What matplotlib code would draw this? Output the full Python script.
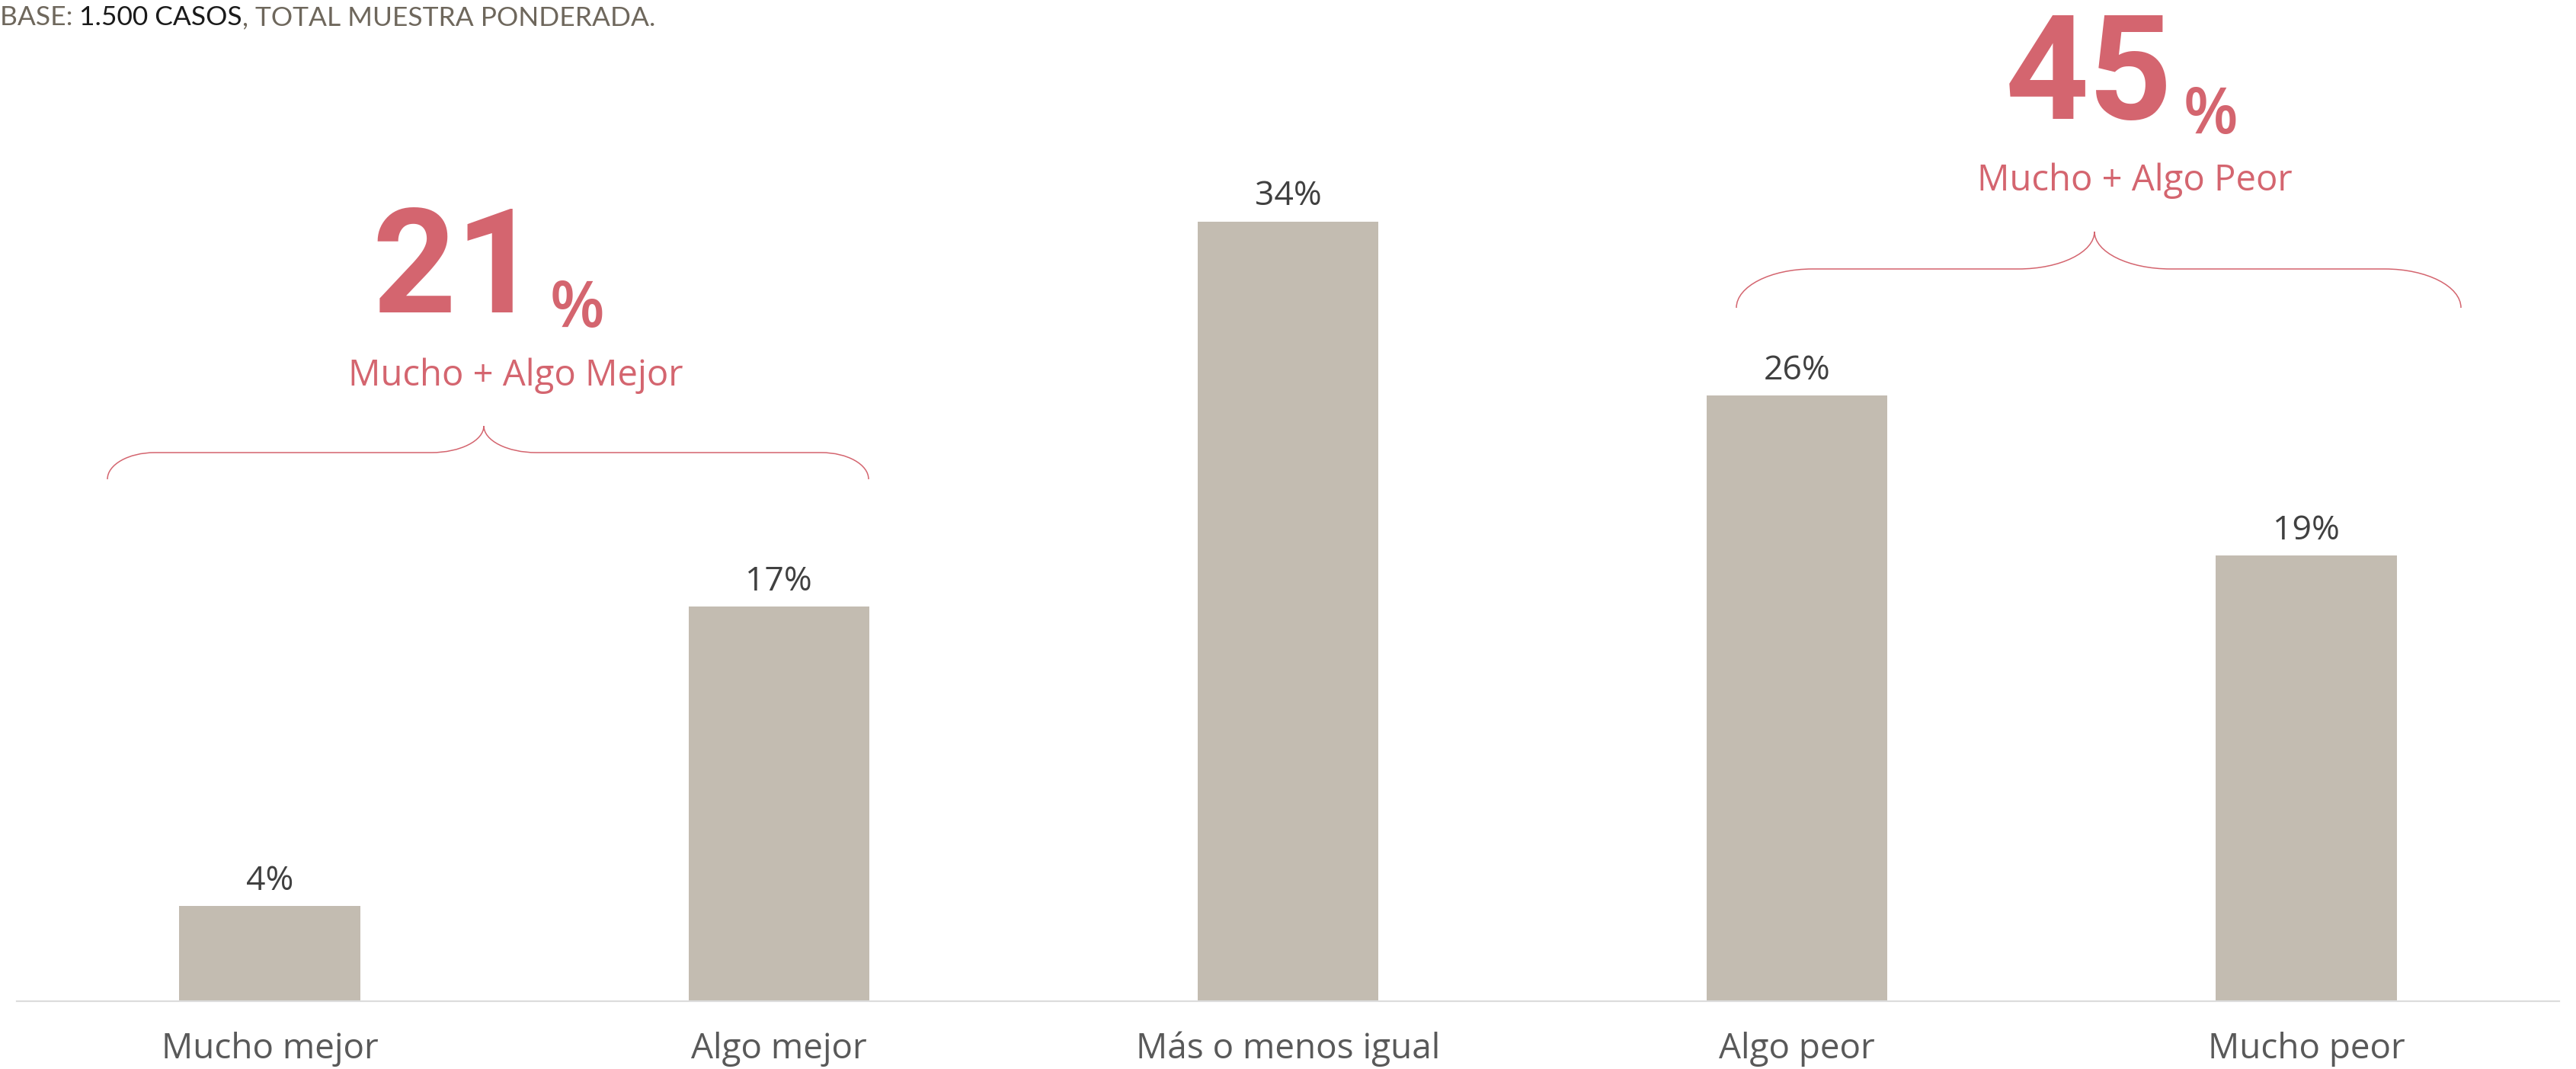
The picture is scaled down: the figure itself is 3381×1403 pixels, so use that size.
import matplotlib.pyplot as plt
from matplotlib.path import Path
from matplotlib.patches import PathPatch
from matplotlib.transforms import Affine2D

# ==== datos ====
categorias = ["Mucho mejor", "Algo mejor", "Más o menos igual", "Algo peor", "Mucho peor"]
valores = [4.1, 17.0, 33.6, 26.1, 19.2]
grupo_mejor = [0, 1]
grupo_peor = [3, 4]
titulo_mejor = "Mucho + Algo Mejor"
titulo_peor = "Mucho + Algo Peor"
nota_base = ["BASE: ", "1.500 CASOS", ", TOTAL MUESTRA PONDERADA."]

# ==== estilo ====
W, H = 3381, 1403
color_barra = "#c3bcb1"
rosa = "#d4656f"
fuente = ["Open Sans", "DejaVu Sans"]
fuente_num = ["Roboto", "DejaVu Sans"]

fig = plt.figure(figsize=(W / 100, H / 100), dpi=100)
fig.patch.set_facecolor("white")

# transformacion en pixeles de la figura (y hacia abajo)
px = Affine2D().scale(1 / W, -1 / H).translate(0, 1) + fig.transFigure

ax = fig.add_axes([22 / W, (H - 1314) / H, (3359 - 22) / W, 1314 / H])
ax.bar(range(len(valores)), valores, width=0.355, color=color_barra)
ax.set_xlim(-0.497, 4.497)
ax.set_ylim(0, 43.15)
for s in ["top", "left", "right"]:
    ax.spines[s].set_visible(False)
ax.spines["bottom"].set_color("#dcdcdc")
ax.spines["bottom"].set_linewidth(1.6)
ax.set_xticks([])
ax.set_yticks([])
ax.patch.set_alpha(0)

# etiquetas de valor y categorias
for i, v in enumerate(valores):
    ax.annotate(f"{v:.0f}%", (i, v), xytext=(0, 15.5), textcoords="offset points",
                ha="center", va="baseline", fontsize=32, color="#404040", family=fuente)
    ax.annotate(categorias[i], (i, 0), xytext=(0, -54), textcoords="offset points",
                ha="center", va="baseline", fontsize=33, color="#595959", family=fuente)


# === llaves ===
def llave(x0, x1, xt, y_tip, y_mid, y_end, rx, rt):
    k = 0.552
    dy_e = y_end - y_mid
    dy_t = y_mid - y_tip
    verts = [
        (x0, y_end),
        (x0, y_end - k * dy_e), (x0 + rx - k * rx, y_mid), (x0 + rx, y_mid),
        (xt - rt, y_mid),
        (xt - rt + k * rt, y_mid), (xt, y_tip + k * dy_t), (xt, y_tip),
        (xt, y_tip + k * dy_t), (xt + rt - k * rt, y_mid), (xt + rt, y_mid),
        (x1 - rx, y_mid),
        (x1 - rx + k * rx, y_mid), (x1, y_end - k * dy_e), (x1, y_end),
    ]
    codes = [Path.MOVETO,
             Path.CURVE4, Path.CURVE4, Path.CURVE4,
             Path.LINETO,
             Path.CURVE4, Path.CURVE4, Path.CURVE4,
             Path.CURVE4, Path.CURVE4, Path.CURVE4,
             Path.LINETO,
             Path.CURVE4, Path.CURVE4, Path.CURVE4]
    fig.add_artist(PathPatch(Path(verts, codes), transform=px, fill=False,
                             edgecolor=rosa, linewidth=1.1))


llave(141, 1140, 635, 559, 594, 629, 62, 69)
llave(2279, 3230, 2749, 304, 353, 404, 100, 100)

# === totales ===
total_mejor = sum(valores[i] for i in grupo_mejor)
total_peor = sum(valores[i] for i in grupo_peor)


def total(x_centro, y_base, valor):
    num = fig.text(x_centro, y_base, f"{valor:.0f}", transform=px, ha="center", va="baseline",
                   fontsize=138, fontweight="bold", color=rosa, family=fuente_num)
    fig.add_artist(plt.Annotation("%", xy=(1, 0), xycoords=num, xytext=(10, 0),
                                  textcoords="offset points", ha="left", va="bottom",
                                  fontsize=60, fontweight="semibold", color=rosa, family=fuente))


total(598, 410, total_mejor)
fig.text(677, 506, titulo_mejor, transform=px, ha="center", va="baseline",
         fontsize=34, color=rosa, family=fuente)

total(2742, 156, total_peor)
fig.text(2802, 250, titulo_peor, transform=px, ha="center", va="baseline",
         fontsize=34, color=rosa, family=fuente)

# === nota de base ===
colores_nota = ["#6e675c", "#1a1a1a", "#6e675c"]
t = fig.text(0, 33, nota_base[0], transform=px, ha="left", va="baseline",
             fontsize=25.5, color=colores_nota[0], family=["Lato", "DejaVu Sans"])
for parte, c in zip(nota_base[1:], colores_nota[1:]):
    t = fig.add_artist(plt.Annotation(parte, xy=(1, 0), xycoords=t, ha="left", va="bottom",
                                      fontsize=25.5, color=c, family=["Lato", "DejaVu Sans"]))

fig.savefig("out.png", dpi=100, facecolor="white")
plt.close(fig)
